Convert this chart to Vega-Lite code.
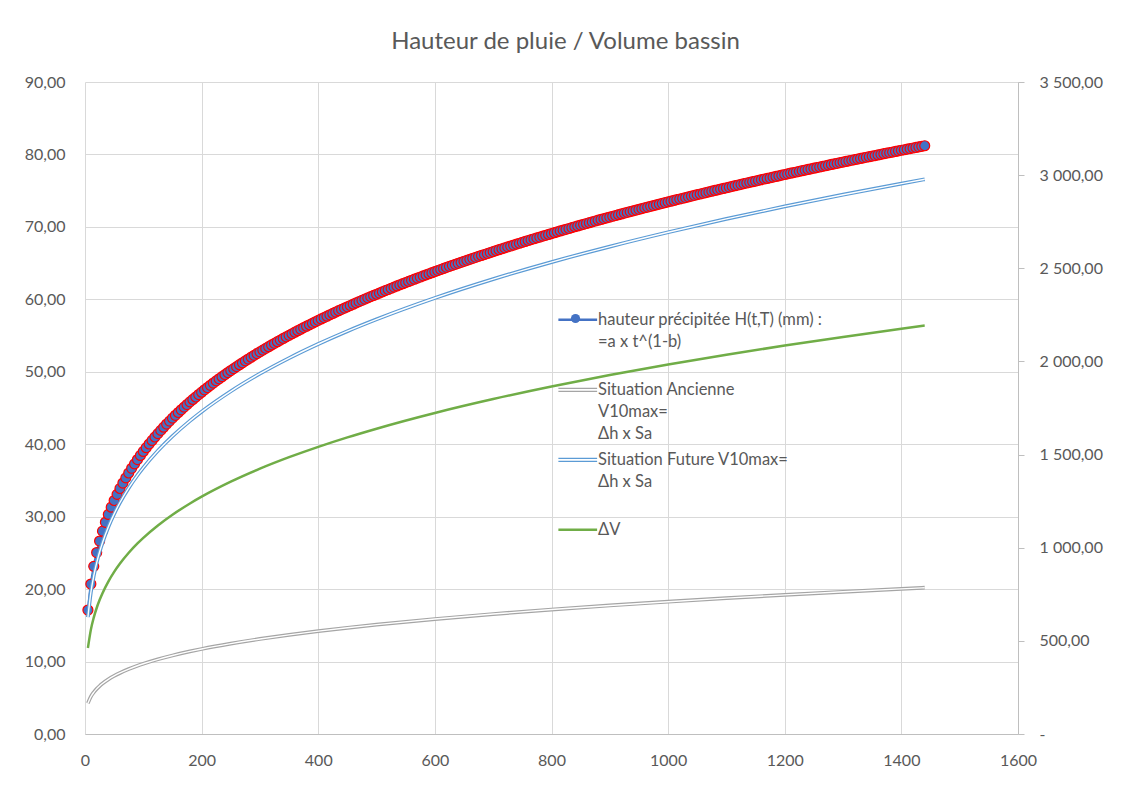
{
  "$schema": "https://vega.github.io/schema/vega-lite/v6.json",
  "description": "Hauteur de pluie (mm, axe gauche) et volumes de bassin (m3, axe droit) en fonction de la durée (min).",
  "width": 933,
  "height": 652,
  "autosize": {"type": "none"},
  "padding": {"left": 85, "top": 82, "right": 113, "bottom": 70},
  "background": "white",
  "title": {
    "text": "Hauteur de pluie / Volume bassin",
    "fontSize": 24,
    "fontWeight": "normal",
    "color": "#595959",
    "anchor": "middle",
    "frame": "group",
    "dx": 14,
    "baseline": "alphabetic",
    "offset": 1
  },
  "config": {
    "font": "Lato",
    "view": {"stroke": null},
    "axis": {
      "labelColor": "#595959",
      "labelFontSize": 16,
      "gridColor": "#D9D9D9",
      "gridWidth": 1,
      "domainColor": "#BFBFBF",
      "tickColor": "#BFBFBF",
      "labelOverlap": false
    }
  },
  "datasets": {
    "pts": [
      {"t":5,"H":17.11},{"t":10,"H":20.70},{"t":15,"H":23.14},{"t":20,"H":25.05},{"t":25,"H":26.63},{"t":30,"H":28.00},{"t":35,"H":29.22},{"t":40,"H":30.31},{"t":45,"H":31.31},{"t":50,"H":32.23},
      {"t":55,"H":33.08},{"t":60,"H":33.89},{"t":65,"H":34.64},{"t":70,"H":35.35},{"t":75,"H":36.03},{"t":80,"H":36.68},{"t":85,"H":37.29},{"t":90,"H":37.88},{"t":95,"H":38.45},{"t":100,"H":39.00},
      {"t":105,"H":39.52},{"t":110,"H":40.03},{"t":115,"H":40.52},{"t":120,"H":41.00},{"t":125,"H":41.46},{"t":130,"H":41.91},{"t":135,"H":42.35},{"t":140,"H":42.78},{"t":145,"H":43.19},{"t":150,"H":43.60},
      {"t":155,"H":43.99},{"t":160,"H":44.38},{"t":165,"H":44.75},{"t":170,"H":45.12},{"t":175,"H":45.48},{"t":180,"H":45.84},{"t":185,"H":46.18},{"t":190,"H":46.52},{"t":195,"H":46.86},{"t":200,"H":47.18},
      {"t":205,"H":47.51},{"t":210,"H":47.82},{"t":215,"H":48.13},{"t":220,"H":48.44},{"t":225,"H":48.74},{"t":230,"H":49.03},{"t":235,"H":49.32},{"t":240,"H":49.61},{"t":245,"H":49.89},{"t":250,"H":50.17},
      {"t":255,"H":50.44},{"t":260,"H":50.71},{"t":265,"H":50.98},{"t":270,"H":51.24},{"t":275,"H":51.50},{"t":280,"H":51.76},{"t":285,"H":52.01},{"t":290,"H":52.26},{"t":295,"H":52.51},{"t":300,"H":52.75},
      {"t":305,"H":52.99},{"t":310,"H":53.23},{"t":315,"H":53.46},{"t":320,"H":53.70},{"t":325,"H":53.92},{"t":330,"H":54.15},{"t":335,"H":54.37},{"t":340,"H":54.60},{"t":345,"H":54.82},{"t":350,"H":55.03},
      {"t":355,"H":55.25},{"t":360,"H":55.46},{"t":365,"H":55.67},{"t":370,"H":55.88},{"t":375,"H":56.09},{"t":380,"H":56.29},{"t":385,"H":56.49},{"t":390,"H":56.70},{"t":395,"H":56.90},{"t":400,"H":57.09},
      {"t":405,"H":57.29},{"t":410,"H":57.48},{"t":415,"H":57.67},{"t":420,"H":57.87},{"t":425,"H":58.05},{"t":430,"H":58.24},{"t":435,"H":58.43},{"t":440,"H":58.61},{"t":445,"H":58.79},{"t":450,"H":58.97},
      {"t":455,"H":59.15},{"t":460,"H":59.33},{"t":465,"H":59.51},{"t":470,"H":59.68},{"t":475,"H":59.86},{"t":480,"H":60.03},{"t":485,"H":60.20},{"t":490,"H":60.37},{"t":495,"H":60.54},{"t":500,"H":60.70},
      {"t":505,"H":60.87},{"t":510,"H":61.04},{"t":515,"H":61.20},{"t":520,"H":61.36},{"t":525,"H":61.53},{"t":530,"H":61.69},{"t":535,"H":61.85},{"t":540,"H":62.01},{"t":545,"H":62.16},{"t":550,"H":62.32},
      {"t":555,"H":62.47},{"t":560,"H":62.63},{"t":565,"H":62.78},{"t":570,"H":62.93},{"t":575,"H":63.08},{"t":580,"H":63.24},{"t":585,"H":63.38},{"t":590,"H":63.53},{"t":595,"H":63.68},{"t":600,"H":63.83},
      {"t":605,"H":63.97},{"t":610,"H":64.12},{"t":615,"H":64.26},{"t":620,"H":64.41},{"t":625,"H":64.55},{"t":630,"H":64.69},{"t":635,"H":64.83},{"t":640,"H":64.97},{"t":645,"H":65.11},{"t":650,"H":65.25},
      {"t":655,"H":65.38},{"t":660,"H":65.52},{"t":665,"H":65.66},{"t":670,"H":65.79},{"t":675,"H":65.93},{"t":680,"H":66.06},{"t":685,"H":66.19},{"t":690,"H":66.33},{"t":695,"H":66.46},{"t":700,"H":66.59},
      {"t":705,"H":66.72},{"t":710,"H":66.85},{"t":715,"H":66.98},{"t":720,"H":67.11},{"t":725,"H":67.24},{"t":730,"H":67.36},{"t":735,"H":67.49},{"t":740,"H":67.62},{"t":745,"H":67.74},{"t":750,"H":67.87},
      {"t":755,"H":67.99},{"t":760,"H":68.12},{"t":765,"H":68.24},{"t":770,"H":68.36},{"t":775,"H":68.48},{"t":780,"H":68.60},{"t":785,"H":68.72},{"t":790,"H":68.84},{"t":795,"H":68.96},{"t":800,"H":69.08},
      {"t":805,"H":69.20},{"t":810,"H":69.32},{"t":815,"H":69.44},{"t":820,"H":69.55},{"t":825,"H":69.67},{"t":830,"H":69.78},{"t":835,"H":69.90},{"t":840,"H":70.02},{"t":845,"H":70.13},{"t":850,"H":70.24},
      {"t":855,"H":70.36},{"t":860,"H":70.47},{"t":865,"H":70.58},{"t":870,"H":70.69},{"t":875,"H":70.81},{"t":880,"H":70.92},{"t":885,"H":71.03},{"t":890,"H":71.14},{"t":895,"H":71.25},{"t":900,"H":71.36},
      {"t":905,"H":71.47},{"t":910,"H":71.57},{"t":915,"H":71.68},{"t":920,"H":71.79},{"t":925,"H":71.90},{"t":930,"H":72.00},{"t":935,"H":72.11},{"t":940,"H":72.21},{"t":945,"H":72.32},{"t":950,"H":72.43},
      {"t":955,"H":72.53},{"t":960,"H":72.64},{"t":965,"H":72.74},{"t":970,"H":72.84},{"t":975,"H":72.94},{"t":980,"H":73.05},{"t":985,"H":73.15},{"t":990,"H":73.25},{"t":995,"H":73.35},{"t":1000,"H":73.45},
      {"t":1005,"H":73.55},{"t":1010,"H":73.65},{"t":1015,"H":73.76},{"t":1020,"H":73.85},{"t":1025,"H":73.95},{"t":1030,"H":74.05},{"t":1035,"H":74.15},{"t":1040,"H":74.25},{"t":1045,"H":74.35},{"t":1050,"H":74.45},
      {"t":1055,"H":74.54},{"t":1060,"H":74.64},{"t":1065,"H":74.74},{"t":1070,"H":74.83},{"t":1075,"H":74.93},{"t":1080,"H":75.03},{"t":1085,"H":75.12},{"t":1090,"H":75.22},{"t":1095,"H":75.31},{"t":1100,"H":75.40},
      {"t":1105,"H":75.50},{"t":1110,"H":75.59},{"t":1115,"H":75.69},{"t":1120,"H":75.78},{"t":1125,"H":75.87},{"t":1130,"H":75.97},{"t":1135,"H":76.06},{"t":1140,"H":76.15},{"t":1145,"H":76.24},{"t":1150,"H":76.33},
      {"t":1155,"H":76.42},{"t":1160,"H":76.52},{"t":1165,"H":76.61},{"t":1170,"H":76.69},{"t":1175,"H":76.78},{"t":1180,"H":76.88},{"t":1185,"H":76.96},{"t":1190,"H":77.05},{"t":1195,"H":77.14},{"t":1200,"H":77.23},
      {"t":1205,"H":77.32},{"t":1210,"H":77.41},{"t":1215,"H":77.49},{"t":1220,"H":77.58},{"t":1225,"H":77.67},{"t":1230,"H":77.76},{"t":1235,"H":77.84},{"t":1240,"H":77.93},{"t":1245,"H":78.02},{"t":1250,"H":78.10},
      {"t":1255,"H":78.19},{"t":1260,"H":78.27},{"t":1265,"H":78.36},{"t":1270,"H":78.44},{"t":1275,"H":78.53},{"t":1280,"H":78.62},{"t":1285,"H":78.70},{"t":1290,"H":78.78},{"t":1295,"H":78.87},{"t":1300,"H":78.95},
      {"t":1305,"H":79.03},{"t":1310,"H":79.12},{"t":1315,"H":79.20},{"t":1320,"H":79.28},{"t":1325,"H":79.36},{"t":1330,"H":79.45},{"t":1335,"H":79.53},{"t":1340,"H":79.61},{"t":1345,"H":79.69},{"t":1350,"H":79.77},
      {"t":1355,"H":79.85},{"t":1360,"H":79.93},{"t":1365,"H":80.01},{"t":1370,"H":80.10},{"t":1375,"H":80.18},{"t":1380,"H":80.25},{"t":1385,"H":80.33},{"t":1390,"H":80.41},{"t":1395,"H":80.50},{"t":1400,"H":80.58},
      {"t":1405,"H":80.65},{"t":1410,"H":80.73},{"t":1415,"H":80.81},{"t":1420,"H":80.89},{"t":1425,"H":80.97},{"t":1430,"H":81.05},{"t":1435,"H":81.12},{"t":1440,"H":81.20}
    ],
    "vol": [
      {"t":5,"A":165.44,"F":627.39,"D":461.95},
      {"t":10,"A":200.19,"F":759.14,"D":558.95},
      {"t":15,"A":223.80,"F":848.69,"D":624.89},
      {"t":20,"A":242.22,"F":918.55,"D":676.33},
      {"t":25,"A":257.55,"F":976.67,"D":719.12},
      {"t":30,"A":270.80,"F":1026.91,"D":756.11},
      {"t":40,"A":293.09,"F":1111.43,"D":818.34},
      {"t":50,"A":311.64,"F":1181.76,"D":870.12},
      {"t":60,"A":327.67,"F":1242.56,"D":914.89},
      {"t":75,"A":348.40,"F":1321.18,"D":972.78},
      {"t":90,"A":366.31,"F":1389.10,"D":1022.79},
      {"t":100,"A":377.08,"F":1429.95,"D":1052.87},
      {"t":125,"A":400.94,"F":1520.41,"D":1119.47},
      {"t":150,"A":421.56,"F":1598.63,"D":1177.07},
      {"t":180,"A":443.23,"F":1680.81,"D":1237.58},
      {"t":200,"A":456.27,"F":1730.24,"D":1273.97},
      {"t":250,"A":485.13,"F":1839.70,"D":1354.57},
      {"t":300,"A":510.09,"F":1934.34,"D":1424.25},
      {"t":350,"A":532.18,"F":2018.10,"D":1485.92},
      {"t":400,"A":552.09,"F":2093.60,"D":1541.51},
      {"t":450,"A":570.26,"F":2162.50,"D":1592.24},
      {"t":500,"A":587.01,"F":2226.02,"D":1639.01},
      {"t":600,"A":617.22,"F":2340.57,"D":1723.35},
      {"t":700,"A":643.94,"F":2441.89,"D":1797.95},
      {"t":800,"A":668.03,"F":2533.27,"D":1865.24},
      {"t":900,"A":690.01,"F":2616.62,"D":1926.61},
      {"t":1000,"A":710.28,"F":2693.48,"D":1983.20},
      {"t":1100,"A":729.16,"F":2765.06,"D":2035.90},
      {"t":1200,"A":746.83,"F":2832.10,"D":2085.27},
      {"t":1300,"A":763.43,"F":2895.02,"D":2131.59},
      {"t":1400,"A":779.16,"F":2954.69,"D":2175.53},
      {"t":1440,"A":785.22,"F":2977.68,"D":2192.46}
    ]
  },
  "layer": [
    {
      "data": {"name": "pts"},
      "encoding": {
        "x": {
          "field": "t",
          "type": "quantitative",
          "scale": {"domain": [0, 1600], "nice": false, "zero": true},
          "axis": {
            "values": [0, 200, 400, 600, 800, 1000, 1200, 1400, 1600],
            "format": "d",
            "grid": true,
            "ticks": false,
            "domain": true,
            "labelPadding": 18,
            "labelFlush": false,
            "title": null
          }
        },
        "y": {
          "field": "H",
          "type": "quantitative",
          "scale": {"domain": [0, 90], "nice": false},
          "axis": {
            "orient": "left",
            "values": [0, 10, 20, 30, 40, 50, 60, 70, 80, 90],
            "grid": true,
            "domain": false,
            "ticks": false,
            "labelPadding": 20,
            "labelExpr": "replace(format(datum.value, '.2f'), '.', ',')",
            "title": null
          }
        }
      },
      "layer": [
        {
          "mark": {"type": "line", "strokeWidth": 2.25, "interpolate": "monotone"},
          "encoding": {"color": {"datum": "H", "type": "nominal"}}
        },
        {
          "mark": {"type": "point", "filled": true, "fill": "#4472C4", "stroke": "#FF0000", "strokeWidth": 1.2, "size": 100, "opacity": 1},
          "encoding": {
            "shape": {
              "datum": "H",
              "type": "nominal",
              "scale": {"range": ["circle"]},
              "legend": {
                "orient": "none",
                "legendX": 485,
                "legendY": 231,
                "zindex": 3,
                "title": null,
                "padding": 0,
                "symbolSize": 85,
                "symbolType": "circle",
                "symbolFillColor": "#4472C4",
                "symbolStrokeColor": "#FF0000",
                "symbolStrokeWidth": 1,
                "labelExpr": "''",
                "encode": {
                  "symbols": {"update": {"fill": {"value": "#4472C4"}, "stroke": {"value": "#FF0000"}, "strokeWidth": {"value": 1}, "opacity": {"value": 1}}}
                }
              }
            }
          }
        }
      ]
    },
    {
      "data": {"name": "vol"},
      "transform": [{"fold": ["A", "F", "D"], "as": ["s", "v"]}],
      "encoding": {
        "x": {"field": "t", "type": "quantitative"},
        "y": {
          "field": "v",
          "type": "quantitative",
          "scale": {"domain": [0, 3500], "nice": false},
          "axis": {
            "orient": "right",
            "values": [0, 500, 1000, 1500, 2000, 2500, 3000, 3500],
            "grid": false,
            "domain": true,
            "ticks": true,
            "tickSize": 6,
            "labelPadding": 15,
            "labelExpr": "datum.value == 0 ? '-' : replace(replace(format(datum.value, ',.2f'), ',', ' '), '.', ',')",
            "title": null
          }
        }
      },
      "layer": [
        {
          "mark": {"type": "line", "interpolate": "monotone"},
          "encoding": {
            "strokeWidth": {"condition": {"test": "datum.s == 'D'", "value": 2.5}, "value": 3.75},
            "color": {
              "field": "s",
              "type": "nominal",
              "scale": {"domain": ["H", "A", "F", "D"], "range": ["#4472C4", "#A5A5A5", "#5B9BD5", "#70AD47"]},
              "legend": {
                "orient": "none",
                "legendX": 484.5,
                "legendY": 229.6,
                "zindex": 1,
                "title": null,
                "padding": 0,
                "symbolType": "stroke",
                "symbolSize": 1500,
                "symbolStrokeWidth": 2.5,
                "labelFontSize": 16.5,
                "labelColor": "#595959",
                "labelOffset": 12,
                "labelLimit": 500,
                "labelBaseline": "middle",
                "rowPadding": 9,
                "labelExpr": "datum.value == 'H' ? ['hauteur précipitée H(t,T) (mm) :', '=a x t^(1-b)', ''] : datum.value == 'A' ? ['Situation Ancienne', 'V10max=', 'Δh x Sa'] : datum.value == 'F' ? ['Situation Future V10max=', 'Δh x Sa', ''] : ['ΔV', '', '']",
                "encode": {
                  "symbols": {
                    "update": {
                      "shape": {"signal": "datum.value == 'A' || datum.value == 'F' ? 'M-1,-0.08H1M-1,0.08H1' : 'stroke'"},
                      "strokeWidth": {"signal": "datum.value == 'A' || datum.value == 'F' ? 1.2 : 2.5"}
                    }
                  },
                  "labels": {"update": {"lineHeight": {"value": 22}}}
                }
              }
            }
          }
        },
        {
          "transform": [{"filter": "datum.s != 'D'"}],
          "mark": {"type": "line", "interpolate": "monotone", "color": "white", "strokeWidth": 1.4},
          "encoding": {"detail": {"field": "s", "type": "nominal"}}
        }
      ]
    }
  ],
  "resolve": {"scale": {"y": "independent"}}
}
